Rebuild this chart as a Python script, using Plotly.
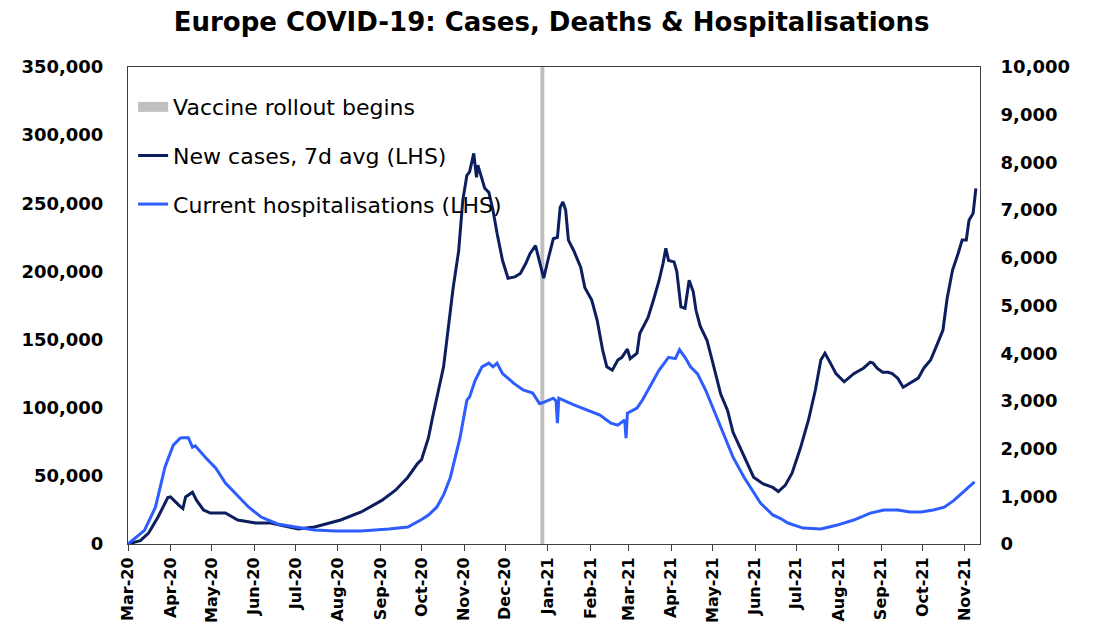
import plotly.graph_objects as go

# New cases, 7d avg
case_dates = [
    "2020-03-01", "2020-03-10", "2020-03-16", "2020-03-23", "2020-03-30", "2020-04-01",
    "2020-04-07", "2020-04-10", "2020-04-12", "2020-04-17", "2020-04-20", "2020-04-25",
    "2020-04-30", "2020-05-11", "2020-05-20", "2020-06-02", "2020-06-13", "2020-06-26",
    "2020-07-03", "2020-07-15", "2020-08-03", "2020-08-18", "2020-09-02", "2020-09-12",
    "2020-09-21", "2020-09-28", "2020-10-01", "2020-10-06", "2020-10-09", "2020-10-17",
    "2020-10-24", "2020-10-28", "2020-10-31", "2020-11-03", "2020-11-05", "2020-11-08",
    "2020-11-10", "2020-11-11", "2020-11-14", "2020-11-16", "2020-11-19", "2020-11-22",
    "2020-11-25", "2020-11-29", "2020-12-03", "2020-12-08", "2020-12-12", "2020-12-16",
    "2020-12-19", "2020-12-23", "2020-12-24", "2020-12-29", "2021-01-01", "2021-01-05",
    "2021-01-08", "2021-01-10", "2021-01-12", "2021-01-14", "2021-01-16", "2021-01-20",
    "2021-01-25", "2021-01-28", "2021-02-02", "2021-02-06", "2021-02-10", "2021-02-13",
    "2021-02-17", "2021-02-21", "2021-02-24", "2021-02-28", "2021-03-02", "2021-03-07",
    "2021-03-09", "2021-03-15", "2021-03-19", "2021-03-23", "2021-03-26", "2021-03-28",
    "2021-03-30", "2021-04-03", "2021-04-05", "2021-04-08", "2021-04-11", "2021-04-14",
    "2021-04-17", "2021-04-19", "2021-04-22", "2021-04-27", "2021-05-02", "2021-05-07",
    "2021-05-12", "2021-05-16", "2021-05-21", "2021-05-27", "2021-05-31", "2021-06-07",
    "2021-06-14", "2021-06-18", "2021-06-23", "2021-06-28", "2021-07-04", "2021-07-10",
    "2021-07-15", "2021-07-19", "2021-07-22", "2021-07-26", "2021-07-30", "2021-08-05",
    "2021-08-08", "2021-08-12", "2021-08-19", "2021-08-24", "2021-08-26", "2021-08-29",
    "2021-09-02", "2021-09-06", "2021-09-09", "2021-09-13", "2021-09-17", "2021-09-22",
    "2021-09-28", "2021-10-02", "2021-10-07", "2021-10-12", "2021-10-16", "2021-10-19",
    "2021-10-23", "2021-10-27", "2021-10-30", "2021-11-02", "2021-11-04", "2021-11-07",
    "2021-11-09",
]
case_values = [
    0, 2500, 8000, 20000, 34000, 34500,
    28500, 26000, 34500, 38000, 32000, 25000,
    22700, 22700, 17600, 15400, 15400, 12500,
    11000, 12500, 17600, 23500, 32000, 39500,
    49000, 59000, 62000, 78000, 93000, 130000,
    188000, 215000, 252000, 270500, 273000, 286600,
    269000, 278000, 268000, 261000, 258000, 245000,
    228000, 208000, 195000, 196000, 198500, 206000,
    213000, 219000, 215000, 195000, 208000, 224000,
    225000, 247000, 251000, 245000, 223000, 215000,
    203000, 188000, 179000, 164000, 142000, 130000,
    127500, 135000, 137000, 143000, 136000, 140000,
    154500, 166000, 179000, 193000, 206000, 217000,
    208000, 207000, 200000, 174000, 173000, 193500,
    185000, 171500, 160000, 149500, 130000, 110000,
    98000, 82000, 71000, 58000, 49000, 44000,
    41500, 38500, 43000, 52000, 70000, 91000,
    113000, 135000, 140000, 132700, 125000, 119000,
    121700, 125000, 129000, 133400, 132700, 129000,
    126000, 126000, 125000, 121700, 115000, 118000,
    121700, 129000, 135000, 147000, 157000, 180000,
    201000, 213000, 223000, 223000, 237500, 242700,
    261000,
]

# Current hospitalisations
hosp_dates = [
    "2020-03-01", "2020-03-13", "2020-03-21", "2020-03-28", "2020-04-03", "2020-04-08",
    "2020-04-10", "2020-04-14", "2020-04-17", "2020-04-19", "2020-04-26", "2020-05-04",
    "2020-05-11", "2020-05-18", "2020-05-28", "2020-06-06", "2020-06-18", "2020-07-01",
    "2020-07-15", "2020-07-30", "2020-08-18", "2020-09-07", "2020-09-21", "2020-10-01",
    "2020-10-06", "2020-10-12", "2020-10-17", "2020-10-22", "2020-10-27", "2020-10-29",
    "2020-11-03", "2020-11-05", "2020-11-09", "2020-11-14", "2020-11-19", "2020-11-22",
    "2020-11-25", "2020-11-29", "2020-12-02", "2020-12-07", "2020-12-14", "2020-12-21",
    "2020-12-26", "2020-12-29", "2021-01-05", "2021-01-07", "2021-01-08", "2021-01-09",
    "2021-01-20", "2021-01-30", "2021-02-08", "2021-02-16", "2021-02-21", "2021-02-26",
    "2021-02-27", "2021-02-28", "2021-03-07", "2021-03-11", "2021-03-17", "2021-03-23",
    "2021-03-30", "2021-04-04", "2021-04-07", "2021-04-11", "2021-04-15", "2021-04-20",
    "2021-04-26", "2021-05-02", "2021-05-09", "2021-05-16", "2021-05-24", "2021-05-31",
    "2021-06-05", "2021-06-14", "2021-06-20", "2021-06-25", "2021-07-06", "2021-07-19",
    "2021-07-31", "2021-08-12", "2021-08-24", "2021-09-03", "2021-09-13", "2021-09-22",
    "2021-09-30", "2021-10-09", "2021-10-17", "2021-10-24", "2021-10-30", "2021-11-04",
    "2021-11-08",
]
hosp_values = [
    0, 10000, 27000, 56500, 72500, 77700,
    78000, 78000, 71000, 72000, 64000, 55700,
    44700, 37400, 27000, 19800, 14700, 12500,
    10300, 9500, 9500, 11000, 12500, 18000,
    21300, 27000, 36000, 49000, 71000, 78000,
    105500, 108000, 120000, 130000, 132700, 130000,
    132700, 125000, 122400, 118000, 113000, 110700,
    103000, 104000, 107000, 105000, 88700, 107000,
    102000, 98200, 94600, 88700, 87200, 91000,
    77700, 96000, 99700, 105600, 116500, 127500,
    137000, 136000, 142500, 137000, 130000, 125000,
    113000, 98200, 81000, 63700, 49000, 37400,
    30000, 21300, 18500, 15400, 11700, 11000,
    13900, 17600, 22700, 25000, 25000, 23500,
    23500, 25000, 27000, 32000, 37400, 41800,
    45500,
]

vaccine_date = "2020-12-28"

month_ticks = [
    "2020-03-01", "2020-04-01", "2020-05-01", "2020-06-01", "2020-07-01", "2020-08-01",
    "2020-09-01", "2020-10-01", "2020-11-01", "2020-12-01", "2021-01-01", "2021-02-01",
    "2021-03-01", "2021-04-01", "2021-05-01", "2021-06-01", "2021-07-01", "2021-08-01",
    "2021-09-01", "2021-10-01", "2021-11-01",
]
month_labels = [
    "Mar-20", "Apr-20", "May-20", "Jun-20", "Jul-20", "Aug-20", "Sep-20", "Oct-20",
    "Nov-20", "Dec-20", "Jan-21", "Feb-21", "Mar-21", "Apr-21", "May-21", "Jun-21",
    "Jul-21", "Aug-21", "Sep-21", "Oct-21", "Nov-21",
]

dark = "#0C1E5E"
light = "#2D5CFF"
grey = "#C0C0C0"
font = "DejaVu Sans"

fig = go.Figure()

# vaccine rollout marker (drawn first so the lines sit on top)
fig.add_trace(go.Scatter(x=[vaccine_date, vaccine_date], y=[0, 350000], mode="lines",
                         line=dict(color=grey, width=4), showlegend=False, hoverinfo="skip"))
# legend-only entry for the marker, so it shows as a thick block
fig.add_trace(go.Scatter(x=[None], y=[None], mode="lines", name="Vaccine rollout begins",
                         line=dict(color=grey, width=10), legendgroup="a"))
fig.add_trace(go.Scatter(x=case_dates, y=case_values, mode="lines", name="New cases, 7d avg (LHS)",
                         line=dict(color=dark, width=3), legendgroup="b"))
fig.add_trace(go.Scatter(x=hosp_dates, y=hosp_values, mode="lines", name="Current hospitalisations (LHS)",
                         line=dict(color=light, width=3), legendgroup="c"))
# empty trace to bring up the right hand axis
fig.add_trace(go.Scatter(x=[None], y=[None], yaxis="y2", showlegend=False))

# page body has an 8px margin, so the figure is a bit smaller than the window
fig.update_layout(
    width=1085, height=633,
    margin=dict(l=120, r=113, t=59, b=97),
    paper_bgcolor="white", plot_bgcolor="white",
    font=dict(family=font, color="black"),
    title=dict(text="<b>Europe COVID-19: Cases, Deaths & Hospitalisations</b>",
               x=0.501, xref="container", xanchor="center",
               y=0.978, yref="container", yanchor="middle",
               font=dict(size=26, family=font, color="black")),
    xaxis=dict(type="date", range=["2020-03-01", "2021-11-12"],
               tickvals=month_ticks, ticktext=month_labels, tickangle=-90,
               tickfont=dict(size=16, weight="bold"),
               ticks="outside", ticklen=6, tickcolor="#404040",
               showgrid=False, zeroline=False,
               showline=True, linecolor="#404040", linewidth=1, mirror=True),
    yaxis=dict(range=[0, 350000], dtick=50000, tickformat=",",
               tickfont=dict(size=18, weight="bold"), ticklabelstandoff=20,
               showgrid=False, zeroline=False,
               showline=True, linecolor="#404040", linewidth=1),
    yaxis2=dict(range=[0, 10000], dtick=1000, tickformat=",", overlaying="y", side="right",
                tickfont=dict(size=18, weight="bold"), ticklabelstandoff=16,
                showgrid=False, zeroline=False,
                showline=True, linecolor="#404040", linewidth=1),
    legend=dict(x=0.006, y=0.96, xanchor="left", yanchor="top",
                bgcolor="rgba(0,0,0,0)", font=dict(size=22, family=font),
                traceorder="grouped", tracegroupgap=17),
)

fig.write_html("out.html")
